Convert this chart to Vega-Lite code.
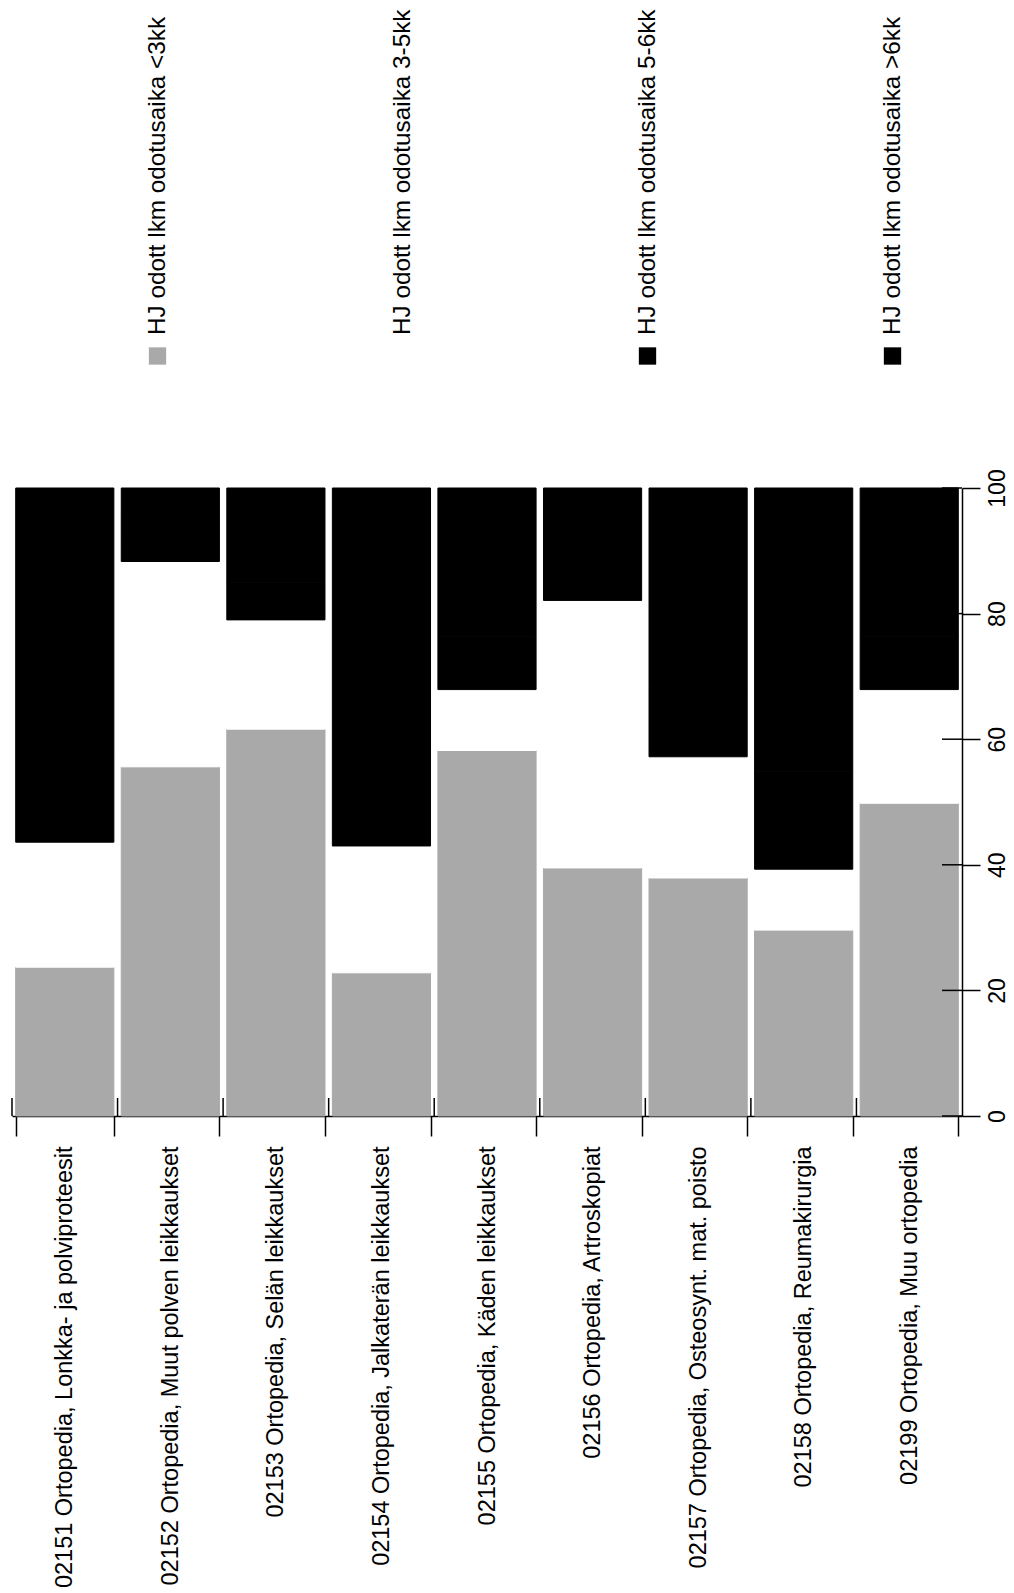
{
  "$schema": "https://vega.github.io/schema/vega-lite/v6.json",
  "background": "white",
  "padding": {"left": 0, "top": 0, "right": 0, "bottom": 0},
  "config": {"view": {"stroke": null}, "font": "Liberation Sans"},
  "datasets": {
    "osuudet": [
      {"kategoria": "02151 Ortopedia, Lonkka- ja polviproteesit", "sarja": "HJ odott lkm odotusaika <3kk", "alaraja_kk": 0, "osuus": 23.7},
      {"kategoria": "02151 Ortopedia, Lonkka- ja polviproteesit", "sarja": "HJ odott lkm odotusaika 3-5kk", "alaraja_kk": 3, "osuus": 19.9},
      {"kategoria": "02151 Ortopedia, Lonkka- ja polviproteesit", "sarja": "HJ odott lkm odotusaika 5-6kk", "alaraja_kk": 5, "osuus": 14.0},
      {"kategoria": "02151 Ortopedia, Lonkka- ja polviproteesit", "sarja": "HJ odott lkm odotusaika >6kk", "alaraja_kk": 6, "osuus": 42.4},
      {"kategoria": "02152 Ortopedia, Muut polven leikkaukset", "sarja": "HJ odott lkm odotusaika <3kk", "alaraja_kk": 0, "osuus": 55.6},
      {"kategoria": "02152 Ortopedia, Muut polven leikkaukset", "sarja": "HJ odott lkm odotusaika 3-5kk", "alaraja_kk": 3, "osuus": 32.7},
      {"kategoria": "02152 Ortopedia, Muut polven leikkaukset", "sarja": "HJ odott lkm odotusaika 5-6kk", "alaraja_kk": 5, "osuus": 3.5},
      {"kategoria": "02152 Ortopedia, Muut polven leikkaukset", "sarja": "HJ odott lkm odotusaika >6kk", "alaraja_kk": 6, "osuus": 8.2},
      {"kategoria": "02153 Ortopedia, Selän leikkaukset", "sarja": "HJ odott lkm odotusaika <3kk", "alaraja_kk": 0, "osuus": 61.6},
      {"kategoria": "02153 Ortopedia, Selän leikkaukset", "sarja": "HJ odott lkm odotusaika 3-5kk", "alaraja_kk": 3, "osuus": 17.4},
      {"kategoria": "02153 Ortopedia, Selän leikkaukset", "sarja": "HJ odott lkm odotusaika 5-6kk", "alaraja_kk": 5, "osuus": 6.0},
      {"kategoria": "02153 Ortopedia, Selän leikkaukset", "sarja": "HJ odott lkm odotusaika >6kk", "alaraja_kk": 6, "osuus": 15.0},
      {"kategoria": "02154 Ortopedia, Jalkaterän leikkaukset", "sarja": "HJ odott lkm odotusaika <3kk", "alaraja_kk": 0, "osuus": 22.8},
      {"kategoria": "02154 Ortopedia, Jalkaterän leikkaukset", "sarja": "HJ odott lkm odotusaika 3-5kk", "alaraja_kk": 3, "osuus": 20.2},
      {"kategoria": "02154 Ortopedia, Jalkaterän leikkaukset", "sarja": "HJ odott lkm odotusaika 5-6kk", "alaraja_kk": 5, "osuus": 14.5},
      {"kategoria": "02154 Ortopedia, Jalkaterän leikkaukset", "sarja": "HJ odott lkm odotusaika >6kk", "alaraja_kk": 6, "osuus": 42.5},
      {"kategoria": "02155 Ortopedia, Käden leikkaukset", "sarja": "HJ odott lkm odotusaika <3kk", "alaraja_kk": 0, "osuus": 58.2},
      {"kategoria": "02155 Ortopedia, Käden leikkaukset", "sarja": "HJ odott lkm odotusaika 3-5kk", "alaraja_kk": 3, "osuus": 9.7},
      {"kategoria": "02155 Ortopedia, Käden leikkaukset", "sarja": "HJ odott lkm odotusaika 5-6kk", "alaraja_kk": 5, "osuus": 8.5},
      {"kategoria": "02155 Ortopedia, Käden leikkaukset", "sarja": "HJ odott lkm odotusaika >6kk", "alaraja_kk": 6, "osuus": 23.6},
      {"kategoria": "02156 Ortopedia, Artroskopiat", "sarja": "HJ odott lkm odotusaika <3kk", "alaraja_kk": 0, "osuus": 39.5},
      {"kategoria": "02156 Ortopedia, Artroskopiat", "sarja": "HJ odott lkm odotusaika 3-5kk", "alaraja_kk": 3, "osuus": 42.6},
      {"kategoria": "02156 Ortopedia, Artroskopiat", "sarja": "HJ odott lkm odotusaika 5-6kk", "alaraja_kk": 5, "osuus": 5.0},
      {"kategoria": "02156 Ortopedia, Artroskopiat", "sarja": "HJ odott lkm odotusaika >6kk", "alaraja_kk": 6, "osuus": 12.9},
      {"kategoria": "02157 Ortopedia, Osteosynt. mat. poisto", "sarja": "HJ odott lkm odotusaika <3kk", "alaraja_kk": 0, "osuus": 37.9},
      {"kategoria": "02157 Ortopedia, Osteosynt. mat. poisto", "sarja": "HJ odott lkm odotusaika 3-5kk", "alaraja_kk": 3, "osuus": 19.3},
      {"kategoria": "02157 Ortopedia, Osteosynt. mat. poisto", "sarja": "HJ odott lkm odotusaika 5-6kk", "alaraja_kk": 5, "osuus": 11.0},
      {"kategoria": "02157 Ortopedia, Osteosynt. mat. poisto", "sarja": "HJ odott lkm odotusaika >6kk", "alaraja_kk": 6, "osuus": 31.8},
      {"kategoria": "02158 Ortopedia, Reumakirurgia", "sarja": "HJ odott lkm odotusaika <3kk", "alaraja_kk": 0, "osuus": 29.6},
      {"kategoria": "02158 Ortopedia, Reumakirurgia", "sarja": "HJ odott lkm odotusaika 3-5kk", "alaraja_kk": 3, "osuus": 9.7},
      {"kategoria": "02158 Ortopedia, Reumakirurgia", "sarja": "HJ odott lkm odotusaika 5-6kk", "alaraja_kk": 5, "osuus": 15.5},
      {"kategoria": "02158 Ortopedia, Reumakirurgia", "sarja": "HJ odott lkm odotusaika >6kk", "alaraja_kk": 6, "osuus": 45.2},
      {"kategoria": "02199 Ortopedia, Muu ortopedia", "sarja": "HJ odott lkm odotusaika <3kk", "alaraja_kk": 0, "osuus": 49.8},
      {"kategoria": "02199 Ortopedia, Muu ortopedia", "sarja": "HJ odott lkm odotusaika 3-5kk", "alaraja_kk": 3, "osuus": 18.1},
      {"kategoria": "02199 Ortopedia, Muu ortopedia", "sarja": "HJ odott lkm odotusaika 5-6kk", "alaraja_kk": 5, "osuus": 8.5},
      {"kategoria": "02199 Ortopedia, Muu ortopedia", "sarja": "HJ odott lkm odotusaika >6kk", "alaraja_kk": 6, "osuus": 23.6}
    ],
    "sarjat": [
      {"sarja": "HJ odott lkm odotusaika <3kk"},
      {"sarja": "HJ odott lkm odotusaika 3-5kk"},
      {"sarja": "HJ odott lkm odotusaika 5-6kk"},
      {"sarja": "HJ odott lkm odotusaika >6kk"}
    ],
    "rajat": [
      {"kategoria": "02151 Ortopedia, Lonkka- ja polviproteesit"},
      {"kategoria": "02152 Ortopedia, Muut polven leikkaukset"},
      {"kategoria": "02153 Ortopedia, Selän leikkaukset"},
      {"kategoria": "02154 Ortopedia, Jalkaterän leikkaukset"},
      {"kategoria": "02155 Ortopedia, Käden leikkaukset"},
      {"kategoria": "02156 Ortopedia, Artroskopiat"},
      {"kategoria": "02157 Ortopedia, Osteosynt. mat. poisto"},
      {"kategoria": "02158 Ortopedia, Reumakirurgia"},
      {"kategoria": "02199 Ortopedia, Muu ortopedia"}
    ],
    "asteikko": [
      {"arvo": 0}, {"arvo": 20}, {"arvo": 40}, {"arvo": 60}, {"arvo": 80}, {"arvo": 100}
    ]
  },
  "spacing": 120,
  "bounds": "flush",
  "resolve": {"scale": {"x": "independent", "y": "independent", "color": "shared"}},
  "vconcat": [
    {
      "width": 950,
      "height": 368,
      "data": {"name": "sarjat"},
      "layer": [
        {
          "mark": {"type": "square", "size": 300, "filled": true, "opacity": 1, "yOffset": -12},
          "encoding": {
            "x": {"field": "sarja", "type": "nominal", "sort": null, "axis": null,
                  "scale": {"range": [23, 1003], "paddingInner": 0, "paddingOuter": 0}},
            "y": {"value": "height"},
            "color": {"field": "sarja", "type": "nominal", "legend": null,
                      "scale": {"domain": ["HJ odott lkm odotusaika <3kk", "HJ odott lkm odotusaika 3-5kk", "HJ odott lkm odotusaika 5-6kk", "HJ odott lkm odotusaika >6kk"],
                                "range": ["#a9a9a9", "#ffffff", "#000000", "#000000"]}}
          }
        },
        {
          "mark": {"type": "text", "angle": 270, "align": "left", "baseline": "middle", "yOffset": -33, "font": "Liberation Sans", "fontSize": 24.3, "color": "black"},
          "encoding": {
            "x": {"field": "sarja", "type": "nominal", "sort": null, "axis": null},
            "y": {"value": "height"},
            "text": {"field": "sarja", "type": "nominal"}
          }
        }
      ]
    },
    {
      "width": 950,
      "height": 628,
      "layer": [
        {
          "data": {"name": "osuudet"},
          "mark": {"type": "bar", "strokeWidth": 1},
          "encoding": {
            "x": {"field": "kategoria", "type": "nominal", "sort": null, "title": null,
                  "scale": {"paddingInner": 0.07, "paddingOuter": 0.035},
                  "axis": {"orient": "bottom", "tickBand": "extent", "tickSize": 20, "tickWidth": 1.5, "tickColor": "black",
                           "domainColor": "black", "domainWidth": 1.5, "labelAngle": 270, "labelAlign": "right",
                           "labelBaseline": "middle", "labelPadding": 10, "labelFont": "Liberation Sans", "labelFontSize": 23.5,
                           "labelColor": "black", "labelLimit": 0, "labelOverlap": false}},
            "y": {"field": "osuus", "type": "quantitative", "stack": "zero", "title": null,
                  "scale": {"domain": [0, 100], "nice": false},
                  "axis": {"orient": "right", "values": [0, 20, 40, 60, 80, 100], "grid": false, "tickSize": 18, "tickWidth": 1.5,
                           "tickColor": "black", "domainColor": "black", "domainWidth": 1.5, "labelAngle": 270,
                           "labelAlign": "center", "labelBaseline": "top", "labelPadding": 6, "labelFont": "Liberation Sans",
                           "labelFontSize": 23, "labelColor": "black", "labelOverlap": false}},
            "color": {"field": "sarja", "type": "nominal", "legend": null},
            "stroke": {"field": "sarja", "type": "nominal", "legend": null,
                       "scale": {"domain": ["HJ odott lkm odotusaika <3kk", "HJ odott lkm odotusaika 3-5kk", "HJ odott lkm odotusaika 5-6kk", "HJ odott lkm odotusaika >6kk"],
                                 "range": ["#a9a9a9", "#ffffff", "#000000", "#000000"]}},
            "order": {"field": "alaraja_kk", "type": "quantitative", "sort": "ascending"}
          }
        },
        {
          "data": {"name": "rajat"},
          "mark": {"type": "rule", "color": "black", "strokeWidth": 1.5, "xOffset": -3.7, "y2Offset": -18},
          "encoding": {
            "x": {"field": "kategoria", "type": "nominal", "sort": null, "bandPosition": 0, "title": null},
            "y": {"datum": 0, "type": "quantitative"},
            "y2": {"datum": 0}
          }
        },
        {
          "data": {"name": "asteikko"},
          "mark": {"type": "rule", "color": "black", "strokeWidth": 1.5, "x2Offset": -20},
          "encoding": {
            "x": {"value": "width"},
            "x2": {"value": "width"},
            "y": {"field": "arvo", "type": "quantitative", "title": null}
          }
        }
      ]
    }
  ]
}
